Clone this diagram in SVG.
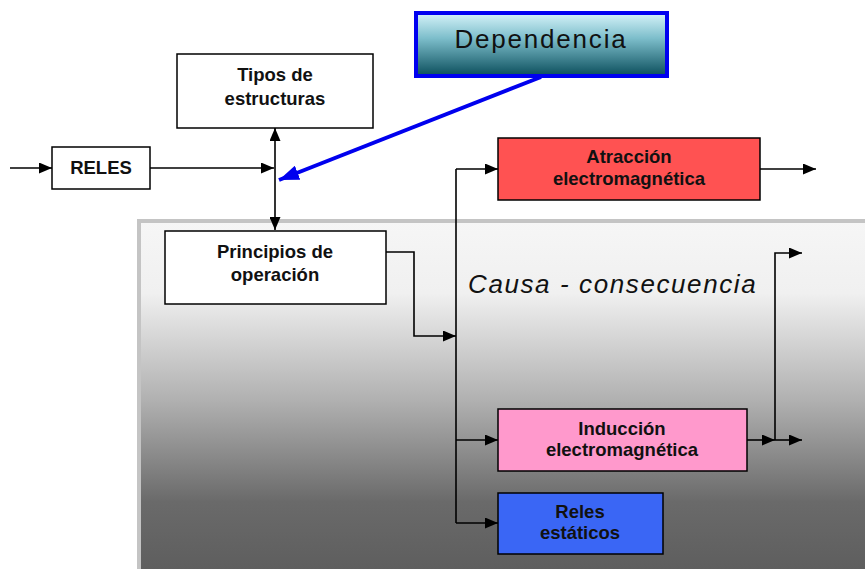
<svg xmlns="http://www.w3.org/2000/svg" width="865" height="569" viewBox="0 0 865 569">
<defs>
<linearGradient id="panelGrad" x1="0" y1="0" x2="0" y2="1">
<stop offset="0" stop-color="#f6f6f6"/>
<stop offset="0.2" stop-color="#f0f0f0"/>
<stop offset="0.5" stop-color="#b0b0b0"/>
<stop offset="0.78" stop-color="#6a6a6a"/>
<stop offset="1" stop-color="#5c5c5c"/>
</linearGradient>
<linearGradient id="depGrad" x1="0" y1="0" x2="0" y2="1">
<stop offset="0" stop-color="#d6f3f9"/>
<stop offset="0.4" stop-color="#7dbecb"/>
<stop offset="1" stop-color="#0b4e5c"/>
</linearGradient>
<marker id="arr" markerUnits="userSpaceOnUse" markerWidth="13" markerHeight="11" refX="13" refY="5.5" orient="auto">
<path d="M0,0 L13,5.5 L0,11 z" fill="#000"/>
</marker>
<marker id="barr" markerUnits="userSpaceOnUse" markerWidth="20" markerHeight="15" refX="20" refY="7.5" orient="auto">
<path d="M0,0 L20,7.5 L0,15 z" fill="#0000ee"/>
</marker>
<style>
.box{stroke:#000;stroke-width:1.5}
.lbl{font-family:"Liberation Sans",Arial,sans-serif;font-weight:bold;font-size:18.5px;fill:#111;text-anchor:middle}
.con{fill:none;stroke:#000;stroke-width:1.6;marker-end:url(#arr)}
.line{fill:none;stroke:#000;stroke-width:1.6}
</style>
</defs>

<g id="panel">
<rect x="139" y="221" width="740" height="360" fill="url(#panelGrad)" stroke="#c4c4c4" stroke-width="4"/>
<text x="468" y="293" font-family="'Liberation Sans',Arial,sans-serif" font-style="italic" font-size="26" letter-spacing="1.6" fill="#111">Causa - consecuencia</text>
</g>

<g id="connectors">
<path class="con" d="M10,168 H52"/>
<path class="con" d="M150,168 H274"/>
<path class="con" d="M275,168 V128"/>
<path class="con" d="M275,168 V230"/>
<path class="con" d="M386,252 H414 V336 H456"/>
<path class="line" d="M456,169 V523"/>
<path class="con" d="M456,169 H498"/>
<path class="con" d="M456,440 H498"/>
<path class="con" d="M456,523 H498"/>
<path class="con" d="M760,169 H816"/>
<path class="con" d="M747,440 H775"/>
<path class="con" d="M775,440 H802"/>
<path class="con" d="M775,440 V253 H802"/>
<path d="M541,77 L279,180" fill="none" stroke="#0000ee" stroke-width="4" marker-end="url(#barr)"/>
</g>

<g id="tipos">
<rect class="box" x="177" y="54" width="196" height="74" fill="#fff"/>
<text class="lbl" x="275" y="81">Tipos de</text>
<text class="lbl" x="275" y="105">estructuras</text>
</g>

<g id="reles">
<rect class="box" x="52" y="147" width="98" height="42" fill="#fff"/>
<text class="lbl" x="101" y="174">RELES</text>
</g>

<g id="principios">
<rect class="box" x="165" y="231" width="221" height="73" fill="#fff"/>
<text class="lbl" x="275" y="258">Principios de</text>
<text class="lbl" x="275" y="281">operación</text>
</g>

<g id="dependencia">
<rect x="416" y="13" width="251" height="63" fill="url(#depGrad)" stroke="#0000f0" stroke-width="4"/>
<text x="541" y="48" font-family="'Liberation Sans',Arial,sans-serif" font-size="26" letter-spacing="1.8" fill="#111" text-anchor="middle">Dependencia</text>
</g>

<g id="atraccion">
<rect class="box" x="498" y="138" width="262" height="62" fill="#ff5252"/>
<text class="lbl" x="629" y="163">Atracción</text>
<text class="lbl" x="629" y="185">electromagnética</text>
</g>

<g id="induccion">
<rect class="box" x="498" y="409" width="249" height="62" fill="#ff99cc"/>
<text class="lbl" x="622" y="435">Inducción</text>
<text class="lbl" x="622" y="456">electromagnética</text>
</g>

<g id="estaticos">
<rect class="box" x="498" y="493" width="165" height="61" fill="#3a66f5"/>
<text class="lbl" x="580" y="518">Reles</text>
<text class="lbl" x="580" y="539">estáticos</text>
</g>
</svg>
